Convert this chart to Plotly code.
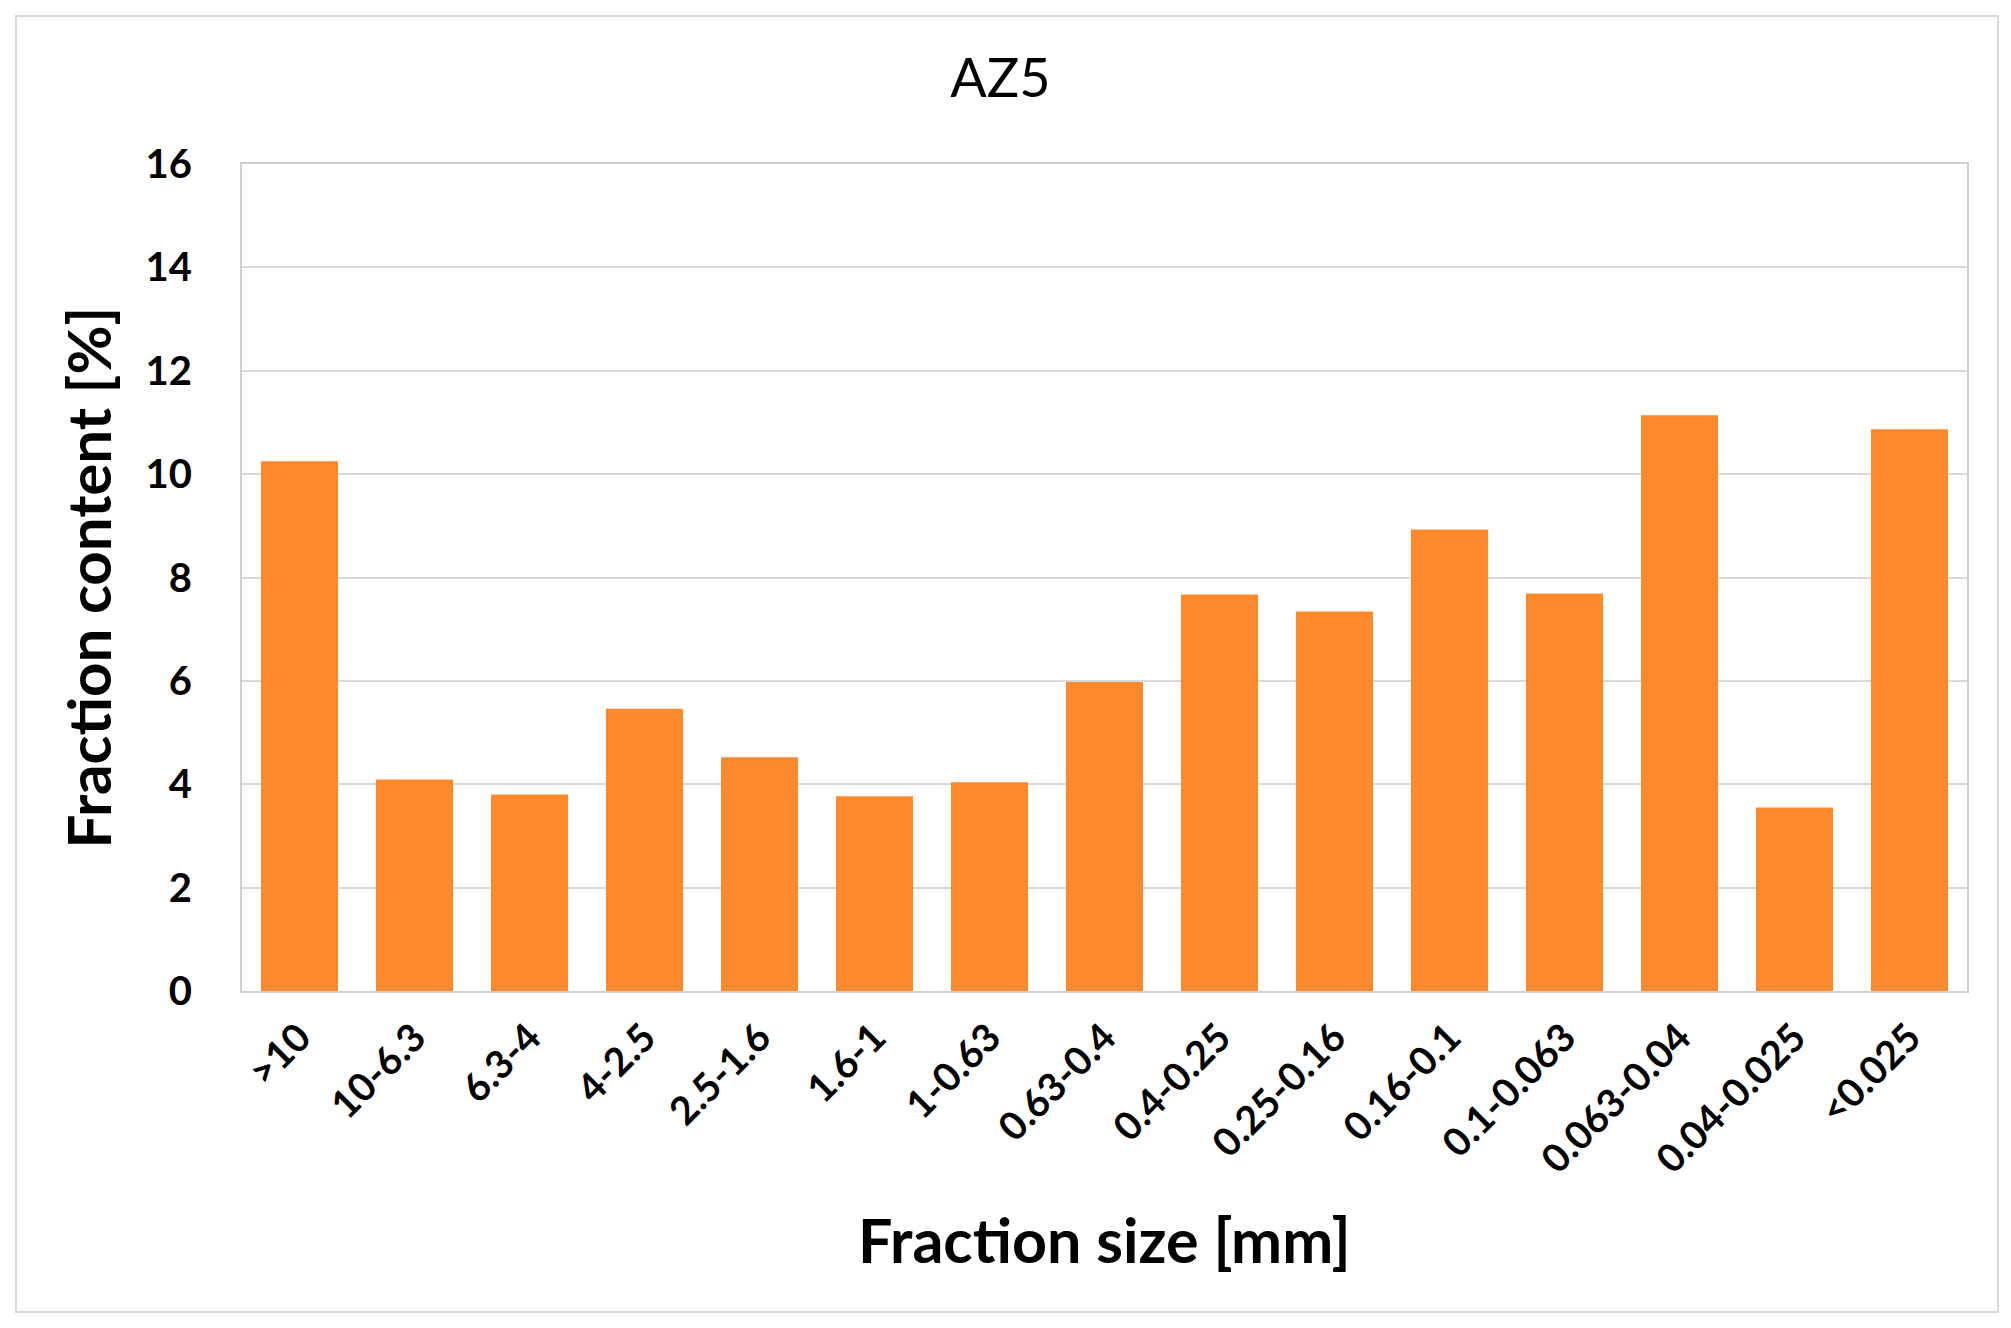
import plotly.graph_objects as go

categories = [">10", "10-6.3", "6.3-4", "4-2.5", "2.5-1.6", "1.6-1", "1-0.63", "0.63-0.4",
              "0.4-0.25", "0.25-0.16", "0.16-0.1", "0.1-0.063", "0.063-0.04", "0.04-0.025", "<0.025"]
values = [10.25, 4.09, 3.80, 5.46, 4.52, 3.77, 4.04, 5.98, 7.67, 7.34, 8.93, 7.69, 11.14, 3.55, 10.87]
y_ticks = [0, 2, 4, 6, 8, 10, 12, 14, 16]

W, H = 2011, 1328
L, R, T, B = 234, 52, 156, 345
pw, ph = W - L - R, H - T - B

def px2paper_x(px):
    return (px - L) / pw

def px2paper_y(py):
    return (H - B - py) / ph

FONT = "Lato"
grid = "#d9d9d9"

fig = go.Figure(go.Bar(x=categories, y=values, marker=dict(color="#FE8A2D", line=dict(width=0))))

fig.update_layout(
    width=W, height=H,
    margin=dict(l=L, r=R, t=T, b=B),
    paper_bgcolor="white", plot_bgcolor="white",
    bargap=0.33,
    showlegend=False,
    font=dict(family=FONT, color="black"),
    title=dict(text="AZ5", x=0.4935, xref="container", xanchor="center",
               y=(H - 70) / H, yanchor="middle", yref="container",
               font=dict(family=FONT, size=54, color="black")),
)

fig.update_xaxes(
    type="category", tickangle=-45, showgrid=False,
    tickfont=dict(family=FONT, size=39, color="black", weight="bold"),
    showline=True, linecolor="#cfcfcf", linewidth=2, mirror=True,
    ticks="", ticklabelstandoff=6,
)
fig.update_yaxes(
    range=[0, 16], tickvals=y_ticks, ticktext=[str(v) for v in y_ticks],
    showgrid=True, gridcolor=grid, gridwidth=2,
    zeroline=False,
    tickfont=dict(family=FONT, size=40, color="black", weight="bold"),
    showline=True, linecolor="#cfcfcf", linewidth=2, mirror=True,
    ticks="", ticklabelstandoff=40,
)

fig.add_annotation(text="Fraction size [mm]", xref="paper", yref="paper",
                   x=0.5, y=px2paper_y(1231), xanchor="center", yanchor="middle",
                   showarrow=False, font=dict(family=FONT, size=61, color="black", weight="bold"))
fig.add_annotation(text="Fraction content [%]", xref="paper", yref="paper",
                   x=px2paper_x(79), y=0.5, xanchor="center", yanchor="middle", textangle=-90,
                   showarrow=False, font=dict(family=FONT, size=60, color="black", weight="bold"))

fig.add_shape(type="rect", xref="paper", yref="paper",
              x0=px2paper_x(8), x1=px2paper_x(1990), y0=px2paper_y(1304), y1=px2paper_y(8),
              line=dict(color="#d9d9d9", width=2), fillcolor="rgba(0,0,0,0)", layer="below")

fig.write_html("out.html")
